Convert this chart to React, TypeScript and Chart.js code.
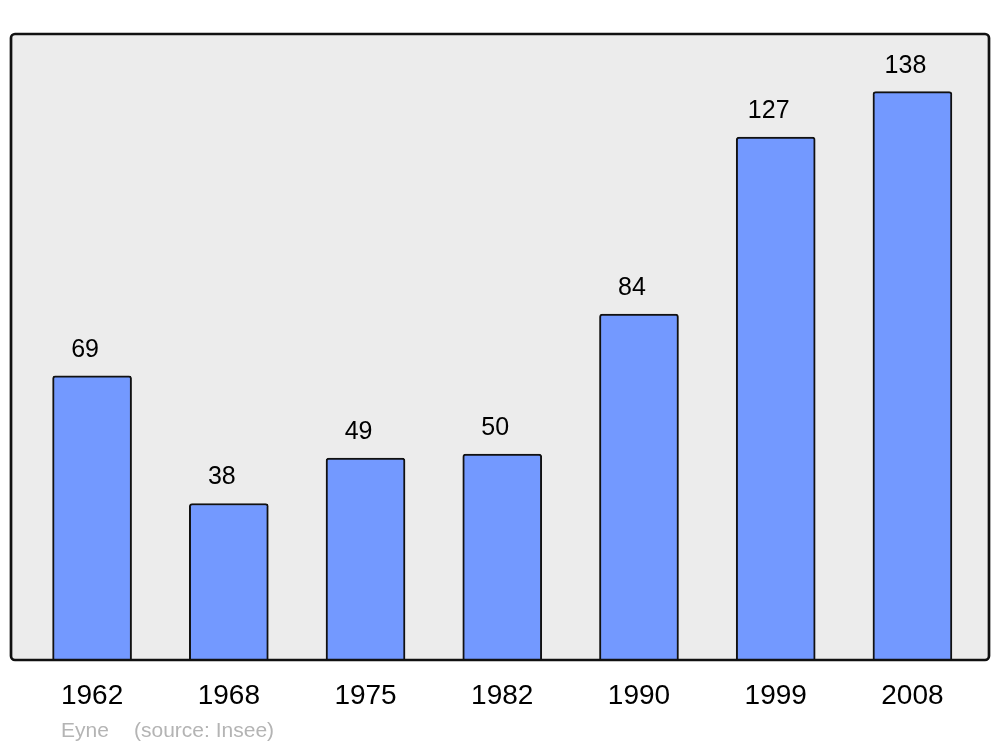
import React, { useEffect, useRef } from "react";
import { Chart, registerables } from "chart.js";

Chart.register(...registerables);

const years: string[] = ["1962", "1968", "1975", "1982", "1990", "1999", "2008"];
const population: number[] = [69, 38, 49, 50, 84, 127, 138];
const placeName = "Eyne";
const sourceText = "(source: Insee)";

const FONT = "'Liberation Sans', Arial, sans-serif";

const framePlugin = {
  id: "frame",
  beforeDatasetsDraw(chart: any) {
    const { ctx, chartArea } = chart;
    const { left, top, right, bottom } = chartArea;
    ctx.save();
    ctx.beginPath();
    ctx.roundRect(left, top, right - left, bottom - top, 4);
    ctx.fillStyle = "#ececec";
    ctx.fill();
    ctx.restore();
  },
  afterDatasetsDraw(chart: any) {
    const { ctx, chartArea } = chart;
    const { left, top, right, bottom } = chartArea;
    ctx.save();
    ctx.beginPath();
    ctx.roundRect(left, top, right - left, bottom - top, 4);
    ctx.lineWidth = 2.7;
    ctx.strokeStyle = "#111111";
    ctx.stroke();

    // value labels
    const meta = chart.getDatasetMeta(0);
    ctx.fillStyle = "#000000";
    ctx.font = `25px ${FONT}`;
    ctx.textAlign = "center";
    ctx.textBaseline = "middle";
    meta.data.forEach((bar: any, i: number) => {
      ctx.fillText(String(population[i]), bar.x - 7, bar.y - 26);
    });

    // footer
    ctx.fillStyle = "#b4b4b4";
    ctx.font = `21px ${FONT}`;
    ctx.textAlign = "left";
    ctx.textBaseline = "alphabetic";
    ctx.fillText(placeName, 61, 737);
    ctx.fillText(sourceText, 134, 737);
    ctx.restore();
  },
};

export default function App() {
  const ref = useRef<HTMLCanvasElement | null>(null);

  useEffect(() => {
    if (!ref.current) return;
    const chart = new Chart(ref.current, {
      type: "bar",
      data: {
        datasets: [
          {
            data: years.map((_, i) => ({ x: i, y: population[i] })),
            backgroundColor: "#7399ff",
            borderColor: "#111111",
            borderWidth: 2,
            borderRadius: { topLeft: 3, topRight: 3, bottomLeft: 0, bottomRight: 0 },
            borderSkipped: "bottom",
            barThickness: 79,
          },
        ],
      },
      options: {
        responsive: false,
        animation: false,
        devicePixelRatio: 1,
        layout: { padding: { left: 11, right: 11, top: 34, bottom: 15.4 } },
        plugins: {
          legend: { display: false },
          tooltip: { enabled: false },
        },
        scales: {
          x: {
            type: "linear",
            offset: false,
            min: -0.593,
            max: 6.56,
            grid: { display: false, drawTicks: false, offset: false },
            border: { display: false },
            afterBuildTicks: (scale: any) => {
              scale.ticks = years.map((_, i) => ({ value: i }));
            },
            ticks: {
              autoSkip: false,
              maxRotation: 0,
              minRotation: 0,
              padding: 19,
              color: "#000000",
              font: { family: FONT, size: 28 },
              callback: (v: any) => years[v] ?? "",
            },
          },
          y: {
            display: false,
            min: 0,
            max: 152,
          },
        },
      },
      plugins: [framePlugin],
    });
    return () => chart.destroy();
  }, []);

  return (
    <div style={{ position: "fixed", left: 0, top: 0, width: 1000, height: 747, background: "#ffffff" }}>
      <canvas ref={ref} width={1000} height={747} style={{ width: 1000, height: 747, display: "block" }} />
    </div>
  );
}
